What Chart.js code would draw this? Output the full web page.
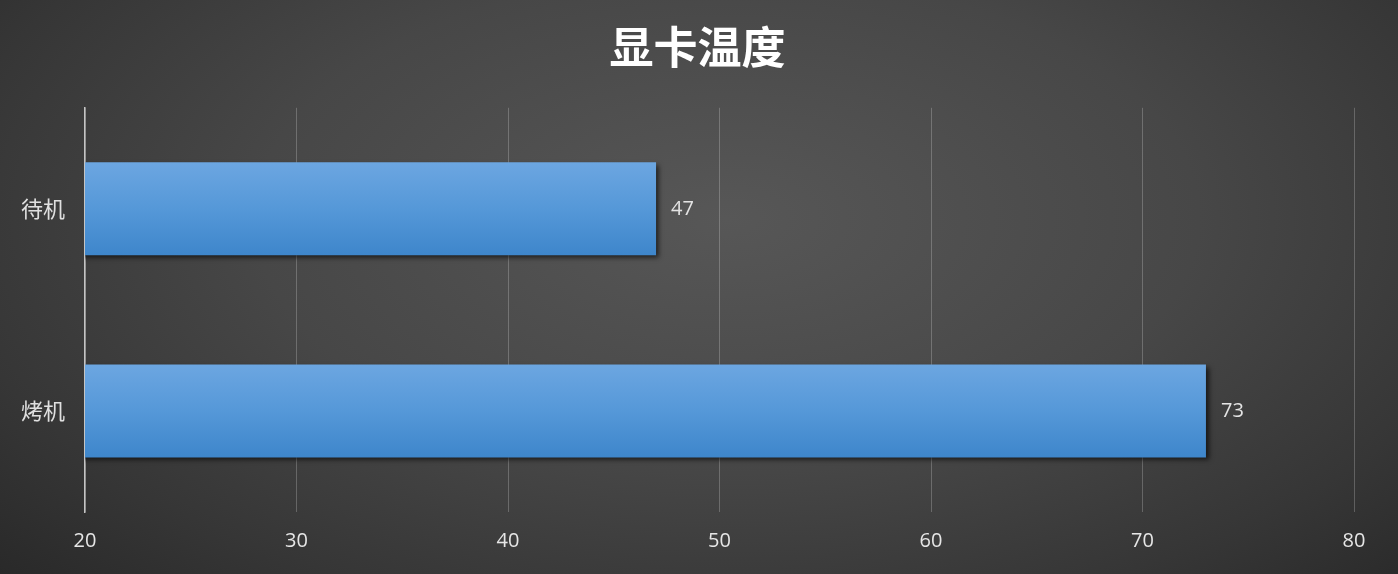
<!DOCTYPE html>
<html>
<head>
<meta charset="utf-8">
<script src="https://cdn.jsdelivr.net/npm/chart.js@4"></script>
<style>
  html, body { margin: 0; padding: 0; }
  body {
    width: 1398px; height: 574px; overflow: hidden;
    background: radial-gradient(ellipse 75% 95% at 52% 38%, #575757 0%, #474747 45%, #363636 75%, #262626 100%);
  }
  #wrap { width: 1398px; height: 574px; position: relative; }
</style>
</head>
<body>
<div id="wrap"><canvas id="c"></canvas></div>
<script>
const categories = ["待机", "烤机"];
const values = [47, 73];
const chartTitle = "显卡温度";
const xMin = 20, xMax = 80, xStep = 10;
const barPct = 0.46;

const barExtras = {
  id: 'barExtras',
  beforeDatasetsDraw(chart) {
    const ctx = chart.ctx;
    ctx.save();
    ctx.shadowColor = 'rgba(0,0,0,0.65)';
    ctx.shadowBlur = 5;
    ctx.shadowOffsetX = 3;
    ctx.shadowOffsetY = 3;
  },
  afterDatasetsDraw(chart) {
    chart.ctx.restore();
    const ctx = chart.ctx;
    const meta = chart.getDatasetMeta(0);
    ctx.save();
    ctx.fillStyle = '#e4e4e4';
    ctx.font = '20px "Open Sans", "Noto Sans", sans-serif';
    ctx.textAlign = 'left';
    ctx.textBaseline = 'middle';
    meta.data.forEach((bar, i) => {
      ctx.fillText(String(chart.data.datasets[0].data[i]), bar.x + 15, bar.y);
    });
    ctx.restore();
  }
};

new Chart(document.getElementById('c'), {
  type: 'bar',
  data: {
    labels: categories,
    datasets: [{
      data: values,
      backgroundColor(context) {
        const chart = context.chart;
        const ys = chart.scales.y;
        if (!ys || !chart.chartArea || context.dataIndex === undefined) return '#4f91d4';
        const c = ys.getPixelForTick(context.dataIndex);
        const band = (chart.chartArea.bottom - chart.chartArea.top) / categories.length;
        const h = band * barPct;
        const g = chart.ctx.createLinearGradient(0, c - h / 2, 0, c + h / 2);
        g.addColorStop(0, '#6ca6e1');
        g.addColorStop(0.5, '#5598d8');
        g.addColorStop(1, '#3e86cb');
        return g;
      },
      borderWidth: 0,
      categoryPercentage: 1,
      barPercentage: barPct
    }]
  },
  options: {
    indexAxis: 'y',
    responsive: true,
    maintainAspectRatio: false,
    animation: false,
    layout: { padding: { top: 21, left: 1, right: 4, bottom: 4 } },
    plugins: {
      legend: { display: false },
      tooltip: { enabled: false },
      title: {
        display: true,
        text: chartTitle,
        color: '#ffffff',
        font: { family: '"Noto Sans CJK SC", sans-serif', size: 44, weight: 'bold' },
        padding: { top: 0, bottom: 34 }
      }
    },
    scales: {
      x: {
        min: xMin, max: xMax,
        ticks: {
          stepSize: xStep,
          color: '#e6e6e6',
          padding: 17,
          font: { family: '"Open Sans", "Noto Sans", sans-serif', size: 20 }
        },
        grid: { color: 'rgba(255,255,255,0.22)', lineWidth: 1, drawTicks: false },
        border: { display: false }
      },
      y: {
        ticks: {
          color: '#e0e0e0',
          padding: 20,
          font: { family: '"Noto Sans CJK SC", sans-serif', size: 22 }
        },
        grid: { display: false, drawTicks: false },
        border: { display: true, color: '#c4c4c4', width: 1.5 }
      },
      yRight: {
        position: 'right',
        display: true,
        ticks: { display: false },
        grid: { display: false, drawTicks: false },
        border: { display: false },
        afterFit(scale) { scale.width = 40; }
      }
    }
  },
  plugins: [barExtras]
});
</script>
</body>
</html>
